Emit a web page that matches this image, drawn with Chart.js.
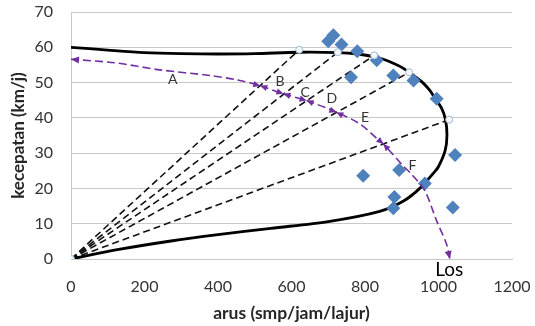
<!DOCTYPE html>
<html>
<head>
<meta charset="utf-8">
<script src="https://cdn.jsdelivr.net/npm/chart.js@4.4.1/dist/chart.umd.min.js"></script>
<style>
  html, body { margin: 0; padding: 0; background: #ffffff; }
  #wrap { width: 535px; height: 326px; }
</style>
</head>
<body>
<div id="wrap"><canvas id="c" width="535" height="326"></canvas></div>
<script>
// ---- tick labels ----
const xTicks = [0, 200, 400, 600, 800, 1000, 1200];
const yTicks = [0, 10, 20, 30, 40, 50, 60, 70];

// ---- speed-flow curve (arus, kecepatan) ----
const curveX = [0, 100, 200, 300, 400, 500, 620, 726, 780, 824, 850, 877, 900, 931, 955, 977, 990, 1008, 1019, 1023, 1018, 999, 985, 952, 906, 840, 700, 544, 400, 272, 130, 0];
const curveY = [60, 59.2, 58.5, 58.2, 58.1, 58.2, 58.6, 58.5, 58.1, 57.3, 56.6, 55.5, 54.3, 52.1, 50.2, 47.7, 45.6, 42.8, 39.5, 35, 30.7, 26, 24.2, 20.3, 16.5, 13.5, 10.6, 8.7, 6.9, 5.1, 2.7, 0];

// ---- observed data (diamonds) ----
const obsX = [714, 700, 736, 779, 762, 832, 877, 932, 995, 1045, 893, 795, 963, 880, 877, 1039];
const obsY = [63.4, 61.7, 60.8, 58.9, 51.5, 56.3, 52, 50.6, 45.4, 29.5, 25.2, 23.6, 21.4, 17.6, 14.4, 14.6];

// ---- reference points on the curve (circles); rays from origin ----
const refX = [0, 621, 726, 825, 920, 1029];
const refY = [0, 59.3, 58.6, 57.7, 52.9, 39.5];

// ---- LOS path (purple) ----
const losX = [0, 120, 242, 378, 450, 515, 578, 641, 722, 786, 832, 850, 904, 927, 963, 995, 1022, 1031];
const losY = [56.6, 55.6, 53.6, 52, 50.8, 49.1, 46.8, 44.9, 41.6, 38.3, 34.2, 32.6, 26.4, 24, 19.3, 10.8, 4.2, 0];
const losBoundaries = [5, 6, 7, 8, 11];

// ---- labels ----
const segLabels = ['A', 'B', 'C', 'D', 'E', 'F'];
const segLabelX = [277, 569, 637, 710, 800, 929];
const segLabelY = [51, 50.4, 47.2, 45.5, 40.1, 26.5];
const losLabel = 'Los';
const losLabelX = 1029;
const losLabelY = -3.1;

const xTitle = 'arus (smp/jam/lajur)';
const yTitle = 'kecepatan (km/j)';

// ---- styles ----
const PURPLE = '#7030A0';
const BLUE = '#4F81BD';
const GRID = '#C8C8C8';
const TEXT = '#333333';

Chart.defaults.font.family = 'Lato, "Liberation Sans", sans-serif';

const pts = (xs, ys) => xs.map((x, i) => ({ x: x, y: ys[i] }));

const datasets = [];
datasets.push({
  label: 'los', data: pts(losX, losY), showLine: true,
  borderColor: PURPLE, borderWidth: 1.6, borderDash: [8, 4],
  pointRadius: 0, tension: 0.3, order: 0
});
datasets.push({
  label: 'obs', data: pts(obsX, obsY), showLine: false,
  pointStyle: 'rectRot', pointRadius: 7, pointHoverRadius: 7,
  backgroundColor: BLUE, borderColor: BLUE, borderWidth: 0, order: 2
});
datasets.push({
  label: 'ref', data: pts(refX, refY), showLine: false,
  pointStyle: 'circle', pointRadius: 3.5,
  backgroundColor: '#F4F8FB', borderColor: '#9DB7CE', borderWidth: 1, order: 1
});
datasets.push({
  label: 'curve', data: pts(curveX, curveY), showLine: true,
  borderColor: '#000000', borderWidth: 2.8, pointRadius: 0, tension: 0.3,
  order: 3
});
for (let i = 1; i < refX.length; i++) {
  datasets.push({
    label: 'ray' + i, data: [{ x: refX[0], y: refY[0] }, { x: refX[i], y: refY[i] }],
    showLine: true, borderColor: '#111111', borderWidth: 1.6, borderDash: [7, 4],
    pointRadius: 0, order: 4
  });
}

function arrowHead(ctx, tip, from, len, half) {
  const a = Math.atan2(tip.y - from.y, tip.x - from.x);
  ctx.beginPath();
  ctx.moveTo(tip.x, tip.y);
  ctx.lineTo(tip.x - len * Math.cos(a) + half * Math.sin(a), tip.y - len * Math.sin(a) - half * Math.cos(a));
  ctx.lineTo(tip.x - len * Math.cos(a) - half * Math.sin(a), tip.y - len * Math.sin(a) + half * Math.cos(a));
  ctx.closePath();
  ctx.fill();
}

const annot = {
  id: 'annot',
  afterDatasetsDraw(chart) {
    const ctx = chart.ctx;
    const xs = chart.scales.x, ys = chart.scales.y;
    const p = chart.getDatasetMeta(0).data;
    ctx.save();
    ctx.fillStyle = PURPLE;
    arrowHead(ctx, p[0], p[1], 8, 3.5);
    arrowHead(ctx, p[p.length - 1], p[p.length - 2], 8, 3.5);
    losBoundaries.forEach(b => {
      arrowHead(ctx, p[b], p[b - 1], 7, 3.2);
      arrowHead(ctx, p[b], p[b + 1], 7, 3.2);
    });
    ctx.fillStyle = TEXT;
    ctx.font = '14px Lato, sans-serif';
    ctx.textAlign = 'center';
    ctx.textBaseline = 'middle';
    segLabels.forEach((t, i) => {
      ctx.fillText(t, xs.getPixelForValue(segLabelX[i]), ys.getPixelForValue(segLabelY[i]));
    });
    ctx.fillStyle = '#000000';
    ctx.font = '19px Lato, sans-serif';
    ctx.fillText(losLabel, xs.getPixelForValue(losLabelX), ys.getPixelForValue(losLabelY));
    ctx.restore();
  }
};

new Chart(document.getElementById('c'), {
  type: 'scatter',
  data: { datasets: datasets },
  options: {
    responsive: false,
    animation: false,
    events: [],
    layout: { padding: { top: 12, right: 23, left: 0, bottom: 0 } },
    plugins: { legend: { display: false }, tooltip: { enabled: false } },
    scales: {
      x: {
        type: 'linear', min: 0, max: 1200,
        afterBuildTicks: s => { s.ticks = xTicks.map(v => ({ value: v })); },
        afterFit: s => { s.height = 67; s.paddingLeft = 0; s.paddingRight = 0; },
        grid: { display: false, drawTicks: false },
        border: { display: true, color: GRID },
        ticks: { padding: 18, color: TEXT, font: { size: 16 }, callback: v => String(v) },
        title: { display: true, text: xTitle, color: '#262626', font: { size: 17.5, weight: 'bold' }, padding: { top: 0, bottom: 2 } }
      },
      y: {
        type: 'linear', min: 0, max: 70,
        afterBuildTicks: s => { s.ticks = yTicks.map(v => ({ value: v })); },
        afterFit: s => { s.width = 71; s.paddingTop = 0; s.paddingBottom = 0; },
        grid: { color: GRID, drawTicks: false },
        border: { display: true, color: GRID },
        ticks: { padding: 18, color: TEXT, font: { size: 16 }, callback: v => String(v) },
        title: { display: true, text: yTitle, color: '#262626', font: { size: 17, weight: 'bold' }, padding: { top: 8, bottom: 0 } }
      }
    }
  },
  plugins: [annot]
});
</script>
</body>
</html>
